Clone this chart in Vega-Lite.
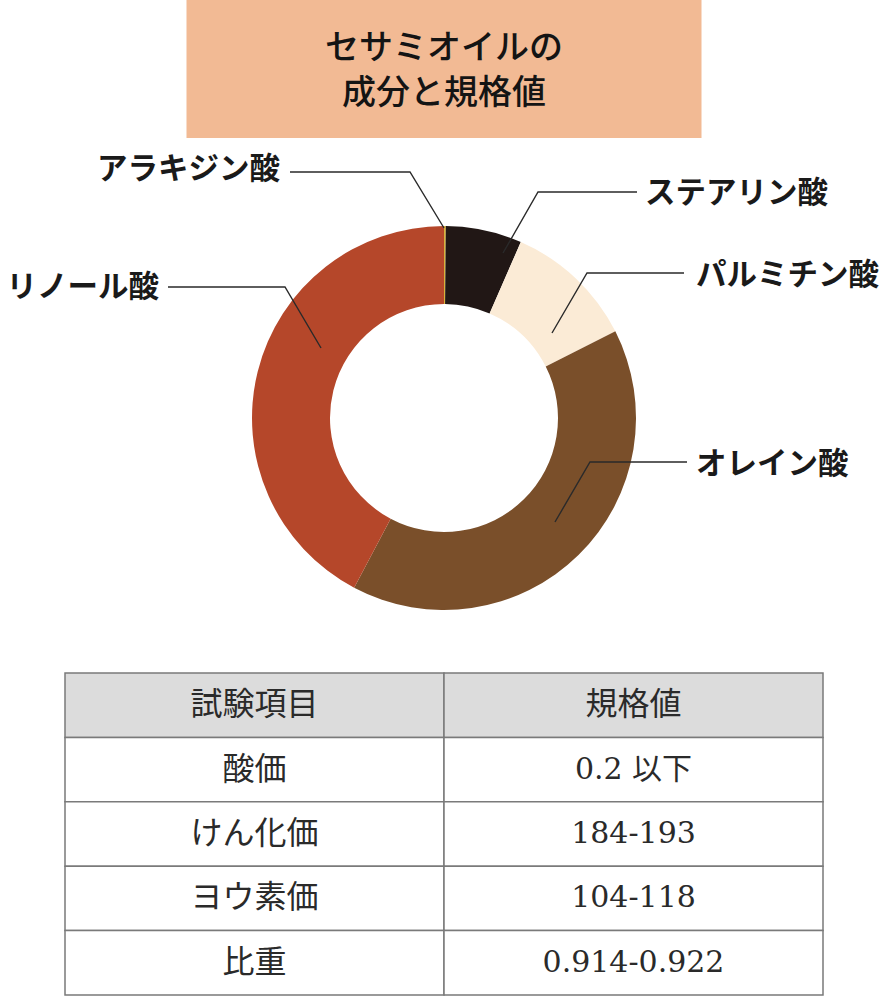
{
  "$schema": "https://vega.github.io/schema/vega-lite/v6.json",
  "padding": 0,
  "background": "white",
  "bounds": "flush",
  "center": true,
  "spacing": 0,
  "config": {"view": {"stroke": null}},
  "vconcat": [
    {
      "width": 515,
      "height": 138,
      "view": {"fill": "#F2BA94", "stroke": null},
      "data": {"values": [{"title": "セサミオイルの\n成分と規格値"}]},
      "mark": {"type": "text", "lineBreak": "\n", "lineHeight": 45, "fontSize": 34, "font": "Noto Sans CJK JP", "fontWeight": 500, "color": "#141414", "baseline": "middle", "align": "center", "dy": -20},
      "encoding": {"text": {"field": "title"}}
    },
    {
      "width": 888,
      "height": 535,
      "layer": [
        {
          "data": {"values": [
            {"acid": "アラキジン酸", "pct": 0.15, "order": 1},
            {"acid": "ステアリン酸", "pct": 6.4, "order": 2},
            {"acid": "パルミチン酸", "pct": 11.0, "order": 3},
            {"acid": "オレイン酸", "pct": 40.2, "order": 4},
            {"acid": "リノール酸", "pct": 42.25, "order": 5}
          ]},
          "mark": {"type": "arc", "outerRadius": 192, "innerRadius": 114},
          "encoding": {
            "x": {"datum": 444, "type": "quantitative", "scale": {"domain": [0, 888], "nice": false, "zero": false}, "axis": null},
            "y": {"datum": 418, "type": "quantitative", "scale": {"domain": [138, 673], "nice": false, "zero": false, "reverse": true}, "axis": null},
            "theta": {"field": "pct", "type": "quantitative", "stack": true},
            "order": {"field": "order", "type": "quantitative"},
            "color": {"field": "acid", "type": "nominal", "legend": null,
              "scale": {"domain": ["アラキジン酸", "ステアリン酸", "パルミチン酸", "オレイン酸", "リノール酸"],
                        "range": ["#D9B23A", "#211715", "#FBEBD6", "#7A4F2A", "#B5472A"]}}
          }
        },
        {
          "data": {"values": [
            {"acid": "アラキジン酸", "seq": 1, "x": 290, "y": 172},
            {"acid": "アラキジン酸", "seq": 2, "x": 410, "y": 172},
            {"acid": "アラキジン酸", "seq": 3, "x": 444, "y": 228},
            {"acid": "リノール酸", "seq": 1, "x": 168, "y": 287},
            {"acid": "リノール酸", "seq": 2, "x": 285, "y": 287},
            {"acid": "リノール酸", "seq": 3, "x": 321, "y": 348},
            {"acid": "ステアリン酸", "seq": 1, "x": 637, "y": 192},
            {"acid": "ステアリン酸", "seq": 2, "x": 538, "y": 192},
            {"acid": "ステアリン酸", "seq": 3, "x": 503, "y": 253},
            {"acid": "パルミチン酸", "seq": 1, "x": 684, "y": 273},
            {"acid": "パルミチン酸", "seq": 2, "x": 587, "y": 273},
            {"acid": "パルミチン酸", "seq": 3, "x": 552, "y": 333},
            {"acid": "オレイン酸", "seq": 1, "x": 687, "y": 462},
            {"acid": "オレイン酸", "seq": 2, "x": 590, "y": 462},
            {"acid": "オレイン酸", "seq": 3, "x": 555, "y": 522}
          ]},
          "mark": {"type": "line", "color": "#2a2a2a", "strokeWidth": 1.4},
          "encoding": {
            "x": {"field": "x", "type": "quantitative"},
            "y": {"field": "y", "type": "quantitative"},
            "detail": {"field": "acid"},
            "order": {"field": "seq", "type": "quantitative"}
          }
        },
        {
          "data": {"values": [
            {"acid": "アラキジン酸", "side": "left", "x": 280, "y": 170},
            {"acid": "リノール酸", "side": "left", "x": 159, "y": 288},
            {"acid": "ステアリン酸", "side": "right", "x": 645, "y": 194},
            {"acid": "パルミチン酸", "side": "right", "x": 696, "y": 276},
            {"acid": "オレイン酸", "side": "right", "x": 696, "y": 465}
          ]},
          "transform": [{"filter": "datum.side === 'left'"}],
          "mark": {"type": "text", "align": "right", "baseline": "middle", "font": "Noto Sans CJK JP", "fontWeight": "bold", "fontSize": 30.5, "color": "#1a1a1a"},
          "encoding": {
            "x": {"field": "x", "type": "quantitative"},
            "y": {"field": "y", "type": "quantitative"},
            "text": {"field": "acid"}
          }
        },
        {
          "data": {"values": [
            {"acid": "アラキジン酸", "side": "left", "x": 280, "y": 170},
            {"acid": "リノール酸", "side": "left", "x": 159, "y": 288},
            {"acid": "ステアリン酸", "side": "right", "x": 645, "y": 194},
            {"acid": "パルミチン酸", "side": "right", "x": 696, "y": 276},
            {"acid": "オレイン酸", "side": "right", "x": 696, "y": 465}
          ]},
          "transform": [{"filter": "datum.side === 'right'"}],
          "mark": {"type": "text", "align": "left", "baseline": "middle", "font": "Noto Sans CJK JP", "fontWeight": "bold", "fontSize": 30.5, "color": "#1a1a1a"},
          "encoding": {
            "x": {"field": "x", "type": "quantitative"},
            "y": {"field": "y", "type": "quantitative"},
            "text": {"field": "acid"}
          }
        }
      ]
    },
    {
      "width": 758,
      "height": 322,
      "data": {"values": [
        {"r": 0, "c": "試験項目", "kind": "header", "text": "試験項目"},
        {"r": 0, "c": "規格値", "kind": "header", "text": "規格値"},
        {"r": 1, "c": "試験項目", "kind": "body", "text": "酸価"},
        {"r": 1, "c": "規格値", "kind": "body", "text": "0.2 以下"},
        {"r": 2, "c": "試験項目", "kind": "body", "text": "けん化価"},
        {"r": 2, "c": "規格値", "kind": "body", "text": "184-193"},
        {"r": 3, "c": "試験項目", "kind": "body", "text": "ヨウ素価"},
        {"r": 3, "c": "規格値", "kind": "body", "text": "104-118"},
        {"r": 4, "c": "試験項目", "kind": "body", "text": "比重"},
        {"r": 4, "c": "規格値", "kind": "body", "text": "0.914-0.922"}
      ]},
      "encoding": {
        "x": {"field": "c", "type": "nominal", "sort": ["試験項目", "規格値"], "scale": {"paddingInner": 0, "paddingOuter": 0}, "axis": null},
        "y": {"field": "r", "type": "ordinal", "scale": {"paddingInner": 0, "paddingOuter": 0}, "axis": null}
      },
      "layer": [
        {
          "mark": {"type": "rect", "stroke": "#7a7a7a", "strokeWidth": 1.5},
          "encoding": {
            "fill": {"field": "kind", "type": "nominal", "legend": null, "scale": {"domain": ["header", "body"], "range": ["#DCDCDC", "#FFFFFF"]}}
          }
        },
        {
          "transform": [{"filter": "datum.kind === 'header' || datum.c === '試験項目'"}],
          "mark": {"type": "text", "font": "Noto Sans CJK JP", "fontSize": 32, "color": "#2a2a2a", "baseline": "middle"},
          "encoding": {"text": {"field": "text"}}
        },
        {
          "transform": [{"filter": "datum.kind === 'body' && datum.c === '規格値'"}],
          "mark": {"type": "text", "font": "DejaVu Serif, Noto Sans CJK JP", "fontSize": 30, "color": "#2a2a2a", "baseline": "middle"},
          "encoding": {"text": {"field": "text"}}
        }
      ]
    }
  ]
}
